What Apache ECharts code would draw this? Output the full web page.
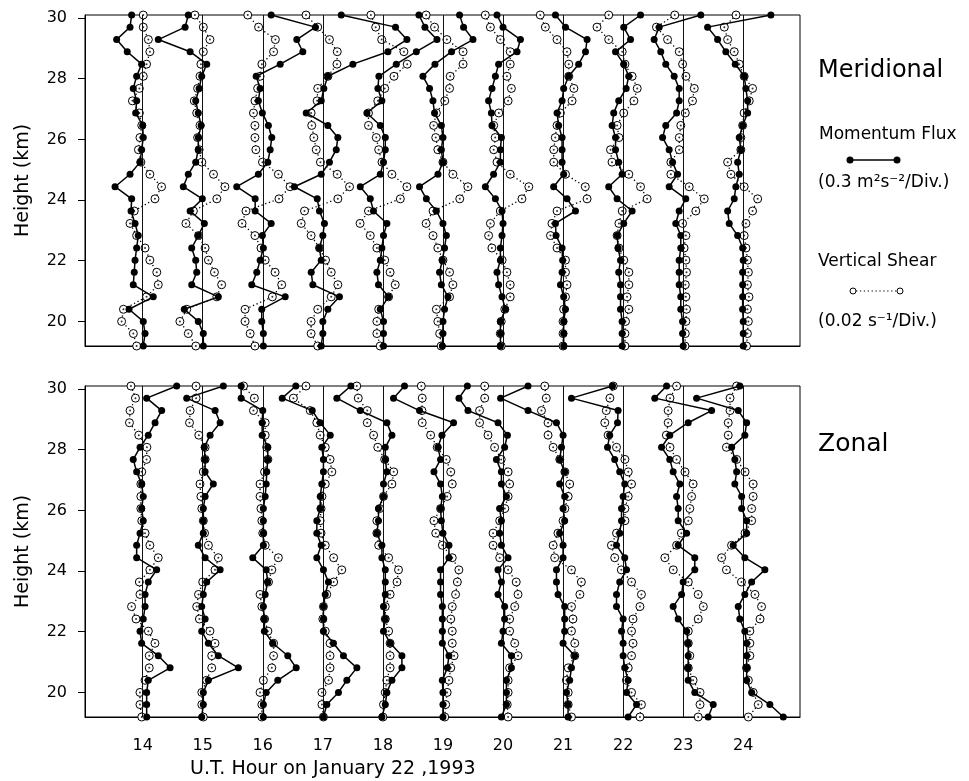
<!DOCTYPE html>
<html><head><meta charset="utf-8">
<script src="https://cdn.jsdelivr.net/npm/echarts@6/dist/echarts.min.js"></script>
<style>html,body{margin:0;padding:0;background:#fff}#c{width:969px;height:781px}</style>
</head><body><div id="c"></div>
<script>
// ---- data (profiles listed top-down, same order as heights) ----
const hours = [14, 15, 16, 17, 18, 19, 20, 21, 22, 23, 24];
const yTicks = [20, 22, 24, 26, 28, 30];
const heights = [30.10, 29.70, 29.29, 28.89, 28.48, 28.08, 27.68, 27.27, 26.87, 26.46, 26.06, 25.66, 25.25, 24.85,
                 24.44, 24.04, 23.64, 23.23, 22.83, 22.42, 22.02, 21.62, 21.21, 20.81, 20.40, 20.00, 19.60, 19.19];
const FLUX_PER_DIV = 0.3;   // m^2 s^-2 per division (1 hour)
const SHEAR_PER_DIV = 20;   // 1e-3 s^-1 per division (0.02 s^-1)

// Meridional momentum flux (m^2 s^-2), one row per hour
const merFlux = [
 [-0.055,-0.063,-0.130,-0.077,-0.005,-0.030,-0.047,-0.030,-0.035,0,0.003,-0.005,-0.013,-0.063,-0.138,-0.055,-0.058,-0.038,-0.022,-0.030,-0.038,-0.042,-0.047,0.053,-0.068,0.003,0.012,0.003],
 [-0.072,-0.088,-0.222,-0.063,0.020,-0.005,-0.018,-0.035,-0.022,-0.008,-0.022,-0.022,-0.035,-0.072,-0.097,-0.002,-0.063,0.008,-0.022,-0.055,-0.035,-0.030,-0.055,0.078,-0.092,-0.022,0.003,0.003],
 [0.042,0.263,0.170,0.200,0.087,-0.033,-0.013,-0.022,-0.002,0.028,0.045,0.037,0.025,-0.022,-0.130,-0.038,-0.038,0.042,-0.002,0.003,-0.013,-0.030,-0.055,0.112,-0.005,-0.005,0.003,0.003],
 [0.092,0.363,0.420,0.325,0.150,0.025,0.005,-0.008,-0.083,0.025,0.075,0.067,0.033,-0.008,-0.142,-0.028,-0.017,0.008,0,-0.017,-0.008,-0.058,-0.050,0.083,0.025,0,0,-0.008],
 [0.180,0.210,0.270,0.167,0.067,-0.020,-0.025,-0.005,-0.080,-0.013,0.012,0.012,0.003,-0.013,-0.113,-0.063,-0.047,0.020,0.003,-0.005,-0.013,-0.030,-0.022,0.028,-0.013,0.003,0.003,0.003],
 [0.083,0.103,0.150,0.043,-0.040,-0.100,-0.067,-0.050,-0.042,-0.008,0,-0.008,0,-0.025,-0.117,-0.083,-0.033,0,0.017,0.008,-0.003,-0.017,-0.008,0.025,0.008,0,0,-0.003],
 [-0.030,0,0.087,0.070,-0.022,-0.038,-0.055,-0.072,-0.058,-0.055,-0.008,-0.013,-0.013,-0.047,-0.088,-0.038,-0.005,0,-0.005,-0.013,-0.013,-0.030,-0.022,-0.005,0.012,-0.013,-0.013,-0.013],
 [-0.038,0.012,0.120,0.112,0.078,0.028,0.003,-0.005,-0.030,-0.022,-0.005,-0.005,-0.005,0.003,-0.047,0.020,0.062,-0.038,-0.035,-0.005,-0.002,-0.005,-0.013,0.003,0.012,0.003,0.003,0.003],
 [0.087,0.003,0.037,-0.038,0.003,0.028,0.015,-0.022,-0.047,-0.055,-0.038,-0.038,-0.022,-0.005,-0.072,-0.030,0.045,0.003,-0.030,-0.025,-0.013,-0.022,-0.013,-0.013,-0.013,-0.005,-0.005,-0.005],
 [0.088,-0.120,-0.145,-0.112,-0.087,-0.045,-0.020,-0.020,-0.033,-0.087,-0.103,-0.070,-0.053,-0.028,-0.070,0.013,-0.020,-0.037,-0.012,-0.012,-0.020,-0.020,-0.020,-0.012,-0.012,-0.003,-0.003,0],
 [0.138,-0.178,-0.128,-0.087,-0.040,0.005,0.013,0.022,0.022,-0.003,-0.020,-0.012,-0.028,-0.020,-0.037,-0.045,-0.078,-0.070,-0.028,-0.003,0,-0.003,-0.003,-0.003,-0.003,0,0,0]
];
// Meridional vertical shear (1e-3 s^-1)
const merShear = [
 [0.2,0.2,1.9,2.4,1.3,0.2,-1.1,-3.4,-1.1,-0.3,-0.9,-1.4,-0.6,2.4,6.3,4.1,-2.8,-4.2,-2.0,0.8,2.4,4.7,5.2,1.3,-6.4,-7.0,-3.1,-2.0],
 [-2.6,0.2,2.4,0.2,-0.6,-0.9,-1.7,-2.8,-2.0,-0.9,-1.7,-1.2,-0.3,3.6,7.4,4.7,-3.1,-5.6,-1.4,0.8,1.9,3.9,6.3,4.7,-5.3,-7.6,-4.8,-2.3],
 [-5.0,-1.4,4.2,3.6,-0.3,-0.9,-1.7,-2.6,-3.1,-2.6,-2.6,-2.3,-0.1,5.2,9.1,5.4,-5.6,-6.9,-2.6,-0.6,0.8,4.1,6.3,3.2,-5.9,-5.9,-4.2,-2.6],
 [-5.6,-1.7,2.2,4.8,4.7,1.7,-1.7,-1.9,-3.9,-3.7,-3.0,-2.2,-0.8,4.8,8.9,5.0,-6.1,-7.2,-3.9,-1.1,0.9,2.8,5.0,2.8,-1.7,-3.9,-3.9,-1.7],
 [-4.0,-2.4,-0.4,7.0,8.1,3.7,0.6,-1.7,-4.8,-4.8,-2.2,-1.4,-0.3,3.0,8.0,5.8,-4.8,-7.6,-4.2,-2.0,0.6,2.4,4.1,1.9,-1.4,-2.0,-2.0,-0.9],
 [-5.6,-2.8,1.3,6.7,6.7,2.4,2.2,0.6,-2.2,-3.1,-2.4,-1.7,0,3.3,8.3,5.6,-3.3,-5.6,-3.3,-1.7,0,2.2,3.3,2.2,-2.2,-1.7,-1.1,-0.6],
 [-5.9,-4.2,-0.9,2.4,2.4,1.3,2.8,1.7,-1.4,-3.1,-2.6,-3.1,-2.0,2.4,8.6,6.3,-0.9,-4.2,-4.8,-3.7,-0.3,1.3,2.4,2.4,0.6,-0.6,-0.9,-0.6],
 [-7.6,-5.9,-2.0,1.3,1.9,1.9,3.6,3.0,-0.9,-2.0,-2.6,-3.1,-3.1,0.8,7.4,8.0,-2.0,-3.7,-4.2,-2.0,0.8,0.8,1.3,0.8,0.2,0,0,0],
 [-4.8,-8.7,-4.8,-0.3,0.6,3.0,4.7,3.6,0.2,-2.0,-1.4,-4.2,-3.7,1.9,5.8,8.0,-0.3,-1.4,-2.0,-1.4,0.2,1.9,1.9,1.3,1.9,0.8,0.6,0.6],
 [-2.8,-8.9,-5.2,-1.3,-0.2,0.9,3.7,3.1,0.7,-0.8,-1.3,-1.3,-4.1,-4.1,2.0,7.0,4.2,-0.2,0.9,0.3,0.9,1.1,0.7,0.9,1.1,0.9,0.7,0.6],
 [-2.4,-6.3,-5.2,-3.0,-1.3,0.3,3.1,2.0,0.3,-0.2,-0.8,-0.8,-5.2,-4.1,0.3,4.8,3.1,0.9,0.3,0.9,1.4,1.7,1.4,1.9,1.4,1.7,1.4,1.1]
];
// Zonal momentum flux (m^2 s^-2)
const zonFlux = [
 [0.170,0.020,0.095,0.062,0.028,-0.013,-0.047,-0.030,-0.005,0.003,-0.005,0.003,-0.013,-0.030,-0.030,0.070,0.028,0.012,0.012,0.003,-0.013,-0.005,0.078,0.137,0.028,0.020,0.020,0.020],
 [0.103,-0.080,0.062,0.087,0.037,0.008,0.012,0.012,0.053,0.012,0.003,0.003,0.003,-0.022,0.012,0.087,0.020,0.003,-0.005,0.012,-0.005,0.028,0.078,0.178,0.028,0.003,0.003,-0.005],
 [-0.108,-0.108,0,-0.003,-0.003,0.025,0.025,0.020,0.017,0.012,0.003,0.003,0.003,0.003,-0.050,0.017,0.025,0.012,0.003,0.008,0.008,0.050,0.125,0.167,0.075,0.017,0.003,0.003],
 [-0.135,-0.203,-0.053,-0.013,0.037,-0.005,0.003,0.003,-0.005,-0.013,-0.013,-0.030,-0.030,-0.008,-0.030,0.003,0.028,0.012,0.003,0.003,0.003,0.053,0.103,0.170,0.120,0.078,0.020,0.003],
 [-0.160,-0.230,-0.113,0.020,0.045,0.012,0.012,0.020,0.003,0.003,-0.022,-0.022,-0.030,-0.005,-0.005,0.012,0.012,0.012,0.003,0.012,0.003,0.037,0.095,0.095,0.045,0.020,0.012,-0.005],
 [-0.192,-0.247,-0.117,0.053,-0.005,-0.025,-0.012,-0.045,-0.012,-0.003,-0.012,-0.008,0,0.030,0.030,-0.012,-0.012,-0.012,-0.003,-0.003,-0.003,-0.003,0.030,0.022,-0.003,0,0,0],
 [-0.178,-0.220,-0.175,-0.025,0.022,0.008,-0.033,-0.008,-0.008,0.017,-0.017,-0.008,-0.017,-0.008,0.025,-0.025,-0.008,-0.025,0.008,0.008,0,-0.008,0.042,0.042,0.017,0.017,0.017,-0.008],
 [-0.175,-0.312,-0.175,-0.033,0,-0.008,-0.017,0.008,-0.017,0.008,0,0.008,-0.017,0,0,-0.033,-0.033,-0.025,0.008,0.008,0.008,0,0.058,0.042,0.033,0.017,0.025,0.025],
 [-0.053,-0.258,-0.025,-0.028,-0.067,-0.078,-0.042,-0.017,0.008,0,-0.008,-0.008,-0.017,-0.033,0.008,0.017,-0.017,-0.033,-0.033,0,-0.008,0,0,0.008,0.025,0.017,0.067,0.025],
 [-0.083,-0.142,0.142,0.025,-0.067,-0.108,-0.067,-0.050,-0.017,-0.033,-0.025,-0.025,0.017,-0.025,0.058,0.058,0,-0.008,-0.050,-0.025,0.017,0.025,0.025,0.025,0.025,0.058,0.150,0.125],
 [-0.017,-0.233,-0.025,0.017,0.008,-0.058,-0.042,-0.033,-0.042,-0.008,-0.008,0.017,0.017,-0.050,0.008,0.108,0.042,0.008,-0.025,-0.017,0.008,0.017,0.017,0.017,0.017,0.042,0.133,0.200]
];
// Zonal vertical shear (1e-3 s^-1)
const zonShear = [
 [-3.9,-2.4,-4.2,-4.4,-1.3,1.4,1.3,-0.3,-0.6,-0.6,-0.6,-0.3,0.8,2.4,5.2,2.4,-1.1,-0.9,-3.7,-2.2,1.9,4.1,2.2,2.2,0.8,-0.9,-0.9,-0.3],
 [-2.2,-2.2,-4.2,-4.4,-1.3,0.8,0.8,0.2,-0.9,-0.6,-0.3,0.2,0.6,1.9,5.2,4.1,0,-1.4,-2.0,-1.1,2.4,4.1,3.0,3.0,1.3,-0.3,-0.3,0.2],
 [-6.4,-2.8,-3.1,0.8,0.8,1.3,1.7,0.6,-0.9,-0.9,-0.6,-0.3,0,0.8,5.2,3.0,1.9,-0.9,-0.3,0.6,1.7,3.6,3.6,3.0,0.2,-0.9,-0.3,-0.3],
 [-5.6,-9.8,-4.2,-2.0,-0.9,0.8,2.4,3.0,0.8,-0.3,-0.6,-0.9,-0.6,0.8,3.6,6.3,3.6,1.3,0.2,0,0.8,2.4,2.4,2.4,1.9,-0.3,-0.3,0.2],
 [-8.7,-8.2,-5.2,-5.2,-3.1,-1.7,0.6,3.6,3.0,0.2,-1.1,-2.0,-2.0,-1.4,1.9,5.2,4.7,2.4,0.8,0.8,1.9,2.4,2.4,2.4,1.3,0.8,0.2,0],
 [-7.2,-6.9,-7.0,-6.9,-4.1,-1.9,1.1,2.6,3.1,1.4,-0.8,-3.0,-2.4,-0.2,3.1,5.3,4.8,4.2,3.1,2.6,3.1,3.1,3.7,2.6,2.0,1.4,0.9,0.6],
 [-6.1,-6.1,-7.8,-7.8,-5.0,-2.8,-0.6,1.7,2.2,1.7,0.6,-1.1,-3.3,-3.3,-1.1,1.7,4.4,5.0,3.9,2.2,2.2,3.9,5.0,2.2,1.7,1.7,1.4,1.7],
 [-6.1,-5.6,-7.2,-5.0,-5.0,-3.3,-1.1,0.6,2.2,1.7,0.6,0,-1.7,-3.3,-2.8,2.8,6.1,5.6,2.8,3.3,2.8,3.9,3.9,1.7,1.1,1.7,1.7,2.8],
 [-3.3,-4.4,-5.6,-6.1,-5.0,-2.2,0.6,1.7,2.8,1.7,0.6,0.6,-2.2,-3.9,-2.8,-0.6,2.8,6.1,5.6,3.3,2.8,3.3,2.8,1.7,1.1,2.8,6.1,5.6],
 [-2.2,-4.4,-5.0,-5.0,-5.6,-4.4,-2.2,0.6,3.3,2.8,2.2,1.7,-0.6,-2.2,-6.1,-3.3,1.7,5.0,6.7,5.0,1.7,1.7,2.2,1.7,3.3,5.6,5.6,5.0],
 [-2.2,-4.4,-4.4,-5.0,-5.0,-5.6,-2.2,0.6,3.3,3.3,2.8,2.8,0.6,-3.9,-7.2,-5.6,-0.6,3.9,6.1,5.6,2.2,2.2,2.2,1.1,1.7,3.3,5.0,1.7]
];

// ---- chart ----
const FONT = 'DejaVu Sans';
const X_MIN = 13.04, X_MAX = 24.945, Y_MIN = 19.19, Y_MAX = 30.1;

function panelSeries(gi, fluxRows, shearRows) {
  const s = [{
    type: 'line', xAxisIndex: gi, yAxisIndex: gi, data: [], silent: true, z: 1,
    markLine: { silent: true, symbol: 'none', label: { show: false },
      lineStyle: { color: '#111', width: 1, type: 'solid' }, animation: false,
      data: hours.map(h => ({ xAxis: h })) }
  }];
  hours.forEach((h, k) => {
    const shearPts = heights.map((z, i) => [h + shearRows[k][i] / SHEAR_PER_DIV, z]);
    s.push({
      type: 'line', xAxisIndex: gi, yAxisIndex: gi, data: shearPts, clip: false, z: 3,
      symbol: 'circle', symbolSize: 8, showAllSymbol: true,
      itemStyle: { color: '#fff', borderColor: '#000', borderWidth: 1 },
      lineStyle: { color: '#000', width: 1.3, type: [1.3, 2.6] }
    });
    s.push({
      type: 'scatter', xAxisIndex: gi, yAxisIndex: gi, data: shearPts, clip: false, z: 4,
      symbol: 'circle', symbolSize: 2, itemStyle: { color: '#000' }, silent: true
    });
    s.push({
      type: 'line', xAxisIndex: gi, yAxisIndex: gi, clip: false, z: 5,
      data: heights.map((z, i) => [h + fluxRows[k][i] / FLUX_PER_DIV, z]),
      symbol: 'circle', symbolSize: 7, showAllSymbol: true,
      itemStyle: { color: '#000' },
      lineStyle: { color: '#000', width: 1.5 }
    });
  });
  return s;
}

const axisTextStyle = { color: '#000', fontFamily: FONT, fontSize: 16 };
function yAx(gi) {
  return {
    type: 'value', gridIndex: gi, min: Y_MIN, max: Y_MAX,
    name: 'Height (km)', nameLocation: 'middle', nameGap: 52, nameRotate: 90,
    nameTextStyle: { color: '#000', fontFamily: FONT, fontSize: 19 },
    axisLine: { show: true, lineStyle: { color: '#000', width: 1 } },
    axisTick: { show: true, length: 7, customValues: yTicks, lineStyle: { color: '#000' } },
    axisLabel: Object.assign({ margin: 18, customValues: yTicks }, axisTextStyle),
    splitLine: { show: false }
  };
}
function xAx(gi, labels) {
  return {
    type: 'value', gridIndex: gi, min: X_MIN, max: X_MAX,
    axisLine: { show: true, lineStyle: { color: '#000', width: 1 } },
    axisTick: { show: false },
    axisLabel: Object.assign({ show: labels, margin: 21, customValues: hours }, axisTextStyle),
    splitLine: { show: false }
  };
}

const chart = echarts.init(document.getElementById('c'), null, { renderer: 'canvas' });
chart.setOption({
  animation: false,
  backgroundColor: '#fff',
  grid: [
    { left: 85, top: 15, width: 715, height: 331, show: true, borderColor: '#000', borderWidth: 1 },
    { left: 85, top: 386, width: 715, height: 331, show: true, borderColor: '#000', borderWidth: 1 }
  ],
  xAxis: [xAx(0, false), xAx(1, true)],
  yAxis: [yAx(0), yAx(1)],
  series: panelSeries(0, merFlux, merShear).concat(panelSeries(1, zonFlux, zonShear)),
  graphic: [
    { type: 'text', left: 818, top: 59, style: { text: 'Meridional', font: '24px "DejaVu Sans"', fill: '#000' } },
    { type: 'text', left: 819, top: 126, style: { text: 'Momentum Flux', font: '17px "DejaVu Sans"', fill: '#000' } },
    { type: 'line', shape: { x1: 850, y1: 160, x2: 897, y2: 160 }, style: { stroke: '#000', lineWidth: 1.5 } },
    { type: 'circle', shape: { cx: 850, cy: 160, r: 3.5 }, style: { fill: '#000' } },
    { type: 'circle', shape: { cx: 897, cy: 160, r: 3.5 }, style: { fill: '#000' } },
    { type: 'text', left: 818, top: 174, style: { text: '(0.3 m²s⁻²/Div.)', font: '17px "DejaVu Sans"', fill: '#000' } },
    { type: 'text', left: 818, top: 253, style: { text: 'Vertical Shear', font: '17px "DejaVu Sans"', fill: '#000' } },
    { type: 'line', shape: { x1: 856, y1: 291, x2: 897, y2: 291 }, style: { stroke: '#000', lineWidth: 1.2, lineDash: [1.3, 2.6] } },
    { type: 'circle', shape: { cx: 853, cy: 291, r: 3 }, style: { fill: '#fff', stroke: '#000', lineWidth: 1 } },
    { type: 'circle', shape: { cx: 900, cy: 291, r: 3 }, style: { fill: '#fff', stroke: '#000', lineWidth: 1 } },
    { type: 'text', left: 818, top: 313, style: { text: '(0.02 s⁻¹/Div.)', font: '17px "DejaVu Sans"', fill: '#000' } },
    { type: 'text', left: 818, top: 432, style: { text: 'Zonal', font: '25px "DejaVu Sans"', fill: '#000' } },
    { type: 'text', left: 190, top: 760, style: { text: 'U.T. Hour on January 22 ,1993', font: '19px "DejaVu Sans"', fill: '#000' } }
  ]
});
</script>
</body></html>
